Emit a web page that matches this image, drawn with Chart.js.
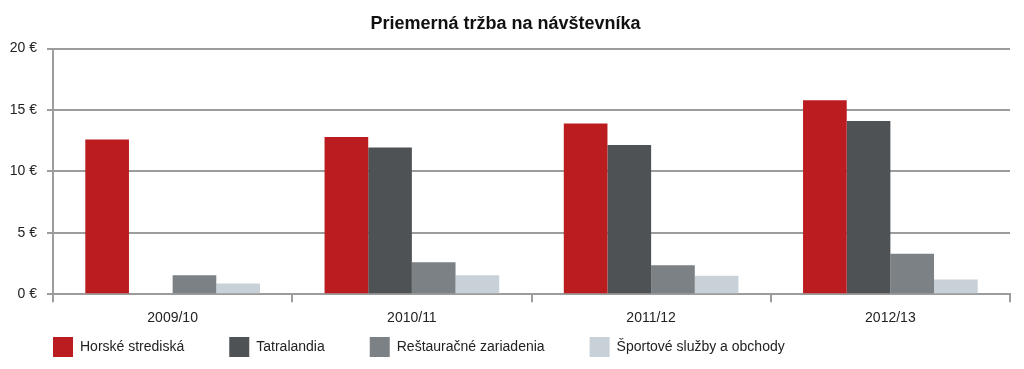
<!DOCTYPE html>
<html>
<head>
<meta charset="utf-8">
<script src="https://cdn.jsdelivr.net/npm/chart.js@4"></script>
<style>
  html, body { margin: 0; padding: 0; background: #fff; }
  #wrap { width: 1024px; height: 369px; }
</style>
</head>
<body>
<div id="wrap"><canvas id="chart" width="1024" height="369"></canvas></div>
<script>
// sezóny
const seasons = ['2009/10', '2010/11', '2011/12', '2012/13'];
// priemerná tržba v EUR
const horske = [12.6, 12.8, 13.9, 15.8];
const tatralandia = [null, 11.95, 12.15, 14.1];
const restauracie = [1.55, 2.6, 2.35, 3.3];
const sport = [0.87, 1.55, 1.5, 1.2];
const yTicks = [0, 5, 10, 15, 20];

const font = "'Liberation Sans', Arial, sans-serif";
const grid = '#9c9c9c';

// legenda: veľké vodorovné medzery, ale malé zvislé
const tightLegend = {
  id: 'tightLegend',
  afterInit(chart) {
    const lg = chart.legend;
    const pad = () => lg.options.labels.padding;
    const fit = lg.fit;
    lg.fit = function () { fit.call(this); this.height = Math.max(0, this.height - pad() - 2); };
    const draw = lg.draw;
    lg.draw = function () {
      const t = this.top, l = this.left;
      this.top = t - (pad() - 2);
      this.left = l + 7;
      draw.call(this);
      this.top = t;
      this.left = l;
    };
  }
};

new Chart(document.getElementById('chart').getContext('2d'), {
  type: 'bar',
  data: {
    labels: seasons,
    datasets: [
      { label: 'Horské strediská', data: horske, backgroundColor: '#bb1c1f' },
      { label: 'Tatralandia', data: tatralandia, backgroundColor: '#4e5255' },
      { label: 'Reštauračné zariadenia', data: restauracie, backgroundColor: '#7c8185' },
      { label: 'Športové služby a obchody', data: sport, backgroundColor: '#c8d1d8' }
    ]
  },
  plugins: [tightLegend],
  options: {
    responsive: false,
    animation: false,
    layout: { padding: { left: 1, right: 14, top: 5, bottom: 6 } },
    datasets: { bar: { categoryPercentage: 0.73, barPercentage: 1 } },
    plugins: {
      title: {
        display: true,
        text: 'Priemerná tržba na návštevníka',
        color: '#111',
        font: { family: font, size: 18, weight: 'bold' },
        padding: { top: 8, bottom: 14 }
      },
      legend: {
        position: 'bottom',
        align: 'start',
        labels: {
          boxWidth: 20,
          boxHeight: 20,
          padding: 45,
          color: '#222',
          font: { family: font, size: 14 }
        }
      },
      tooltip: { enabled: false }
    },
    scales: {
      x: {
        grid: { drawOnChartArea: false, color: grid, lineWidth: 2, tickLength: 8, offset: true },
        border: { display: true, color: grid, width: 2 },
        ticks: { color: '#222', font: { family: font, size: 14 }, padding: 8 }
      },
      y: {
        min: 0,
        max: 20,
        afterBuildTicks: axis => { axis.ticks = yTicks.map(v => ({ value: v })); },
        afterFit: axis => { axis.width = 52; },
        grid: { color: grid, lineWidth: 2, tickLength: 6 },
        border: { display: true, color: grid, width: 2 },
        ticks: {
          color: '#222',
          font: { family: font, size: 14 },
          padding: 10,
          callback: v => v + ' €'
        }
      }
    }
  }
});
</script>
</body>
</html>
